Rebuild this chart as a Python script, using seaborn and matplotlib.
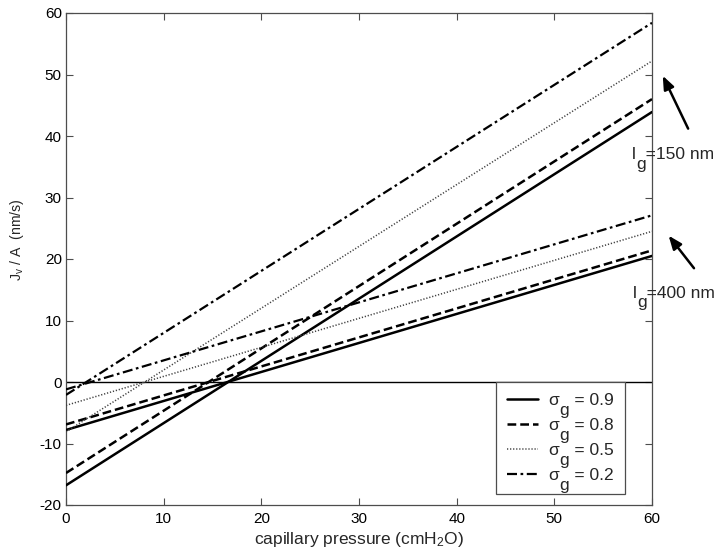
import matplotlib
matplotlib.use("Agg")
import matplotlib.pyplot as plt
import seaborn as sns
import pandas as pd
from matplotlib.lines import Line2D
from matplotlib.text import Annotation
from matplotlib.font_manager import FontProperties

# Capillary pressure range (cmH2O)
pressure = [0, 60]

# Gap-junction reflection coefficients
sigma_g = ["0.9", "0.8", "0.5", "0.2"]

# Jv/A (nm/s) at the ends of the pressure range, gap length 150 nm
flux_150_start = [-16.8, -14.8, -8.1, -2.1]
flux_150_end = [43.9, 46.0, 52.2, 58.4]

# Jv/A (nm/s) at the ends of the pressure range, gap length 400 nm
flux_400_start = [-7.8, -6.9, -3.8, -1.2]
flux_400_end = [20.5, 21.4, 24.5, 27.1]

x_ticks = [0, 10, 20, 30, 40, 50, 60]
y_ticks = [-20, -10, 0, 10, 20, 30, 40, 50, 60]

rows = []
for i, s in enumerate(sigma_g):
    for lg, y0, y1 in (("150", flux_150_start[i], flux_150_end[i]),
                       ("400", flux_400_start[i], flux_400_end[i])):
        rows.append({"p": pressure[0], "J": y0, "sigma": s, "lg": lg})
        rows.append({"p": pressure[1], "J": y1, "sigma": s, "lg": lg})
df = pd.DataFrame(rows)

sns.set_style("ticks")
plt.rcParams["font.family"] = ["Liberation Sans", "DejaVu Sans"]
plt.rcParams["mathtext.fontset"] = "custom"
plt.rcParams["mathtext.rm"] = "Liberation Sans"
plt.rcParams["mathtext.it"] = "Liberation Sans:italic"
plt.rcParams["axes.unicode_minus"] = False

styles = {
    "0.9": dict(dashes=None, lw=1.8, color="black"),
    "0.8": dict(dashes=(3.5, 1.6), lw=1.8, color="black"),
    "0.5": dict(dashes=(0.8, 1.2), lw=1.1, color="0.25"),
    "0.2": dict(dashes=(4.5, 1.6, 1.2, 1.6), lw=1.6, color="black"),
}

DPI = 100
fig = plt.figure(figsize=(7.16, 5.55), dpi=DPI)
ax = fig.add_axes([66 / 716, 1 - 505 / 555, 586 / 716, 492 / 555])

ax.axhline(0, color="black", lw=1.0, zorder=1)

for s in sigma_g:
    st = styles[s]
    for lg in ("150", "400"):
        sub = df[(df["sigma"] == s) & (df["lg"] == lg)]
        sns.lineplot(data=sub, x="p", y="J", ax=ax, color=st["color"],
                     lw=st["lw"], estimator=None, legend=False, zorder=3)
        line = ax.lines[-1]
        if st["dashes"] is None:
            line.set_linestyle("-")
        else:
            line.set_dashes(st["dashes"])

ax.set_xlim(0, 60)
ax.set_ylim(-20, 60)
ax.set_xticks(x_ticks)
ax.set_yticks(y_ticks)
ax.tick_params(direction="in", length=5, width=0.8, top=True, right=True,
               labelsize=11, colors="0.3", labelcolor="black")
ax.tick_params(axis="x", pad=5)
ax.tick_params(axis="y", pad=3)
for sp in ax.spines.values():
    sp.set_visible(True)
    sp.set_color("0.3")
    sp.set_linewidth(0.9)

ax.set_xlabel(r"capillary pressure (cmH$\mathregular{_2}$O)", fontsize=12.5, labelpad=3)
ax.set_ylabel(r"$\mathregular{J_v}$ / A  (nm/s)", fontsize=10.2)
ax.yaxis.set_label_coords(-0.068, 0.54)

FS = 12.5
fp = FontProperties(family=["Liberation Sans"], size=FS)
renderer = fig.canvas.get_renderer()


def advance_pts(s):
    w, _, _ = renderer.get_text_width_height_descent(s, fp, ismath=False)
    return w * 72 / DPI


# Legend: big dropped subscript "g" is placed next to each sigma
handles = []
for s in sigma_g:
    st = styles[s]
    h = Line2D([0], [0], color=st["color"], lw=st["lw"])
    if st["dashes"] is not None:
        h.set_dashes(st["dashes"])
    handles.append(h)
labels = ["\u03c3   = " + s for s in sigma_g]
leg = ax.legend(handles, labels, loc="upper left",
                bbox_to_anchor=(496 / 716, 1 - 382 / 555),
                bbox_transform=fig.transFigure, prop=fp,
                frameon=True, fancybox=False, framealpha=1, edgecolor="0.3",
                handlelength=1.75, handletextpad=0.65, labelspacing=0.56,
                borderpad=0.65, borderaxespad=0)
leg.get_frame().set_linewidth(0.9)

sig_w = advance_pts("\u03c3")
drop = -0.55 * FS
for t in leg.get_texts():
    fig.add_artist(Annotation("g", xy=(0, 0), xycoords=t,
                              xytext=(sig_w - 0.5, drop),
                              textcoords="offset points",
                              fontproperties=fp, va="bottom", ha="left",
                              zorder=10))

# Arrows marking the two gap-length families
arrow = dict(arrowstyle="-|>,head_length=0.8,head_width=0.32",
             color="black", lw=1.8, shrinkA=0, shrinkB=0)
ax.annotate("", xy=(61.1, 49.8), xytext=(63.7, 41.2), annotation_clip=False,
            arrowprops=arrow)
ax.annotate("", xy=(61.7, 23.8), xytext=(64.3, 18.5), annotation_clip=False,
            arrowprops=arrow)

l_w = advance_pts("l")
for xt, yt, txt in ((58.0, 36.2, "=150 nm"), (58.1, 13.7, "=400 nm")):
    ax.text(xt, yt, "l  " + txt, fontproperties=fp,
            va="baseline", ha="left", clip_on=False, zorder=5)
    ax.annotate("g", xy=(xt, yt), xytext=(l_w - 0.3, drop),
                textcoords="offset points", fontproperties=fp,
                va="baseline", ha="left", annotation_clip=False, zorder=5)

fig.savefig("out.png", dpi=DPI)
